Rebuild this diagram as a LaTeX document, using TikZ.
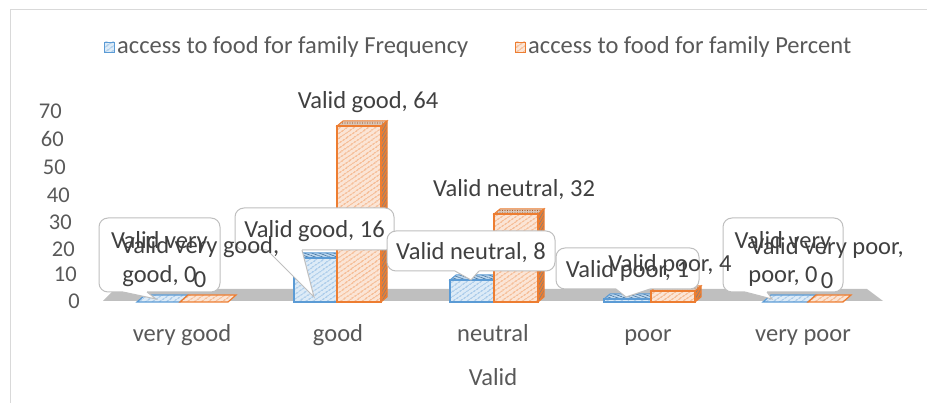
\documentclass[tikz,border=0pt]{standalone}
\usepackage{fontspec}
\setmainfont{Carlito}
\usetikzlibrary{patterns.meta}

\definecolor{freqline}{HTML}{5B9BD5}
\definecolor{freqfill}{HTML}{DDEBF7}
\definecolor{freqtopfill}{HTML}{BDD7EE}
\definecolor{freqdark}{HTML}{41719C}
\definecolor{percline}{HTML}{ED7D31}
\definecolor{percfill}{HTML}{FBE5D6}
\definecolor{perctopfill}{HTML}{D9C7BA}
\definecolor{percdark}{HTML}{AE5A21}
\definecolor{labeltext}{HTML}{595959}
\definecolor{datatext}{HTML}{404040}
\definecolor{calloutline}{HTML}{BFBFBF}
\definecolor{floorgray}{HTML}{BFBFBF}
\definecolor{framegray}{HTML}{D9D9D9}

\newcommand{\datafont}{\fontsize{24.5}{34}\selectfont}
\newcommand{\tickfont}{\fontsize{22.5}{24}\selectfont}

\tikzset{
  freqface/.style={draw=freqline, line width=1.2pt, preaction={fill=freqfill},
    pattern={Lines[angle=35,distance=4pt,line width=0.7pt]}, pattern color=freqline},
  freqtop/.style={draw=freqline, line width=1pt, preaction={fill=freqtopfill},
    pattern={Lines[angle=-20,distance=2.5pt,line width=0.6pt]}, pattern color=freqdark},
  freqside/.style={draw=freqline, line width=1pt, preaction={fill=freqline},
    pattern={Lines[angle=60,distance=2.5pt,line width=0.6pt]}, pattern color=freqdark},
  percface/.style={draw=percline, line width=1.2pt, preaction={fill=percfill},
    pattern={Lines[angle=35,distance=4pt,line width=0.7pt]}, pattern color=percline},
  perctop/.style={draw=percline, line width=1pt, preaction={fill=perctopfill},
    pattern={Dots[distance=2.5pt,radius=0.6pt]}, pattern color=percdark},
  percside/.style={draw=percline, line width=1pt, preaction={fill=percline},
    pattern={Lines[angle=60,distance=2.5pt,line width=0.6pt]}, pattern color=gray},
  callout/.style={draw=calloutline, fill=white, line width=1pt, rounded corners=9pt,
    inner sep=0pt, outer sep=0pt, align=center, text=datatext, font=\datafont},
  oneline/.style={text height=18pt, text depth=0pt},
  twoline/.style={text height=56pt, text depth=0pt},
  callborder/.style={draw=calloutline, line width=1pt},
  datalabel/.style={inner sep=0pt, align=center, text=datatext, font=\datafont},
  catlabel/.style={inner sep=0pt, text=labeltext, font=\datafont, text height=16pt, text depth=5pt},
  ticklabel/.style={inner sep=0pt, anchor=east, text=labeltext, font=\tickfont}
}

% bar: left x, right x, top y, series
\newcommand{\drawbar}[4]{%
  \filldraw[#4top] (#1,#3) -- (#2,#3) -- (#2+6,#3-5) -- (#1+6,#3-5) -- cycle;
  \filldraw[#4side] (#2,302) -- (#2+6,297) -- (#2+6,#3-5) -- (#2,#3) -- cycle;
  \filldraw[#4face] (#1,#3) rectangle (#2,302);
}
% zero bar: left x, right x, series
\newcommand{\drawslab}[3]{%
  \filldraw[#3face] (#1,302) -- (#2,302) -- (#2+8,295) -- (#1+8,295) -- cycle;
}
% callout pointer: node, left offset, right offset, tip
\newcommand{\pointer}[4]{%
  \fill[white] ([xshift=#2pt,yshift=3pt]#1.south west) -- ([xshift=#2pt]#1.south west)
    -- (#4) -- ([xshift=#3pt]#1.south west) -- ([xshift=#3pt,yshift=3pt]#1.south west) -- cycle;
  \draw[callborder] ([xshift=#2pt]#1.south west) -- (#4) -- ([xshift=#3pt]#1.south west);
}

\begin{document}
\begin{tikzpicture}[x=1pt,y=-1pt]
    \useasboundingbox (0,0) rectangle (927,403);
    % Frame
    \draw[framegray,line width=1pt] (10,403) -- (10,10) -- (927,10);
    % Legend
    \filldraw[freqface,line width=0.8pt] (104,42) rectangle (114,52);
    \node[catlabel,anchor=west] (legfreq) at (117,48) {access to food for family Frequency};
    \filldraw[percface,line width=0.8pt] (515,42) rectangle (525,52);
    \node[catlabel,anchor=west] (legperc) at (528,48) {access to food for family Percent};
    % Floor
    \fill[floorgray] (103,301) -- (883,301) -- (867,289) -- (115,289) -- cycle;
    % Value axis
    \foreach \v/\yy/\xx in {0/301/80,10/274/77,20/249/75,30/222/72,40/195/70,50/167/66,60/139/64,70/111/62}
      \node[ticklabel] (tick\v) at (\xx,\yy) {\v};
    % Bars
    \drawslab{137}{180}{freq}
    \drawslab{180}{228}{perc}
    \drawbar{294}{337}{258}{freq}
    \drawbar{337}{381}{126}{perc}
    \drawbar{450}{494}{280}{freq}
    \drawbar{494}{538}{214}{perc}
    \drawbar{604}{651}{299}{freq}
    \drawbar{651}{695}{291}{perc}
    \drawslab{763}{808}{freq}
    \drawslab{808}{843}{perc}
    % Category axis
    \node[catlabel] (catvg) at (182,336) {very good};
    \node[catlabel] (catg) at (338,336) {good};
    \node[catlabel] (catn) at (493,336) {neutral};
    \node[catlabel] (catp) at (648,336) {poor};
    \node[catlabel] (catvp) at (803,336) {very poor};
    \node[catlabel] (axtitle) at (493,380) {Valid};
    % Frequency labels
    \node[callout,twoline,minimum width=121pt,minimum height=74pt] (fvg) at (159.5,255) {Valid very\\good, 0};
    \coordinate (tipvg) at (156,299);
    \pointer{fvg}{24}{48}{tipvg}
    \node[callout,oneline,minimum width=159pt,minimum height=42pt] (fg) at (314.5,229) {Valid good, 16};
    \coordinate (tipg) at (314,297);
    \pointer{fg}{32}{67}{tipg}
    \node[callout,oneline,minimum width=168pt,minimum height=40pt] (fn) at (471,251) {Valid neutral, 8};
    \coordinate (tipn) at (471,280);
    \pointer{fn}{68}{92}{tipn}
    \node[callout,oneline,minimum width=143pt,minimum height=41pt] (fp) at (627.5,268.5) {Valid poor, 1};
    \coordinate (tipp) at (626,297);
    \pointer{fp}{60}{94}{tipp}
    \node[callout,twoline,minimum width=120pt,minimum height=74pt] (fvp) at (783,255) {Valid very\\poor, 0};
    \coordinate (tipvp) at (772,299);
    \pointer{fvp}{22}{44}{tipvp}
    % Percent labels
    \node[datalabel] (pvg) at (200,262) {Valid very good,\\0};
    \node[datalabel] (pg) at (368,102) {Valid good, 64};
    \node[datalabel] (pn) at (514,190) {Valid neutral, 32};
    \node[datalabel] (pp) at (670,265) {Valid poor, 4};
    \node[datalabel] (pvp) at (827,263) {Valid very poor,\\0};
\end{tikzpicture}
\end{document}
